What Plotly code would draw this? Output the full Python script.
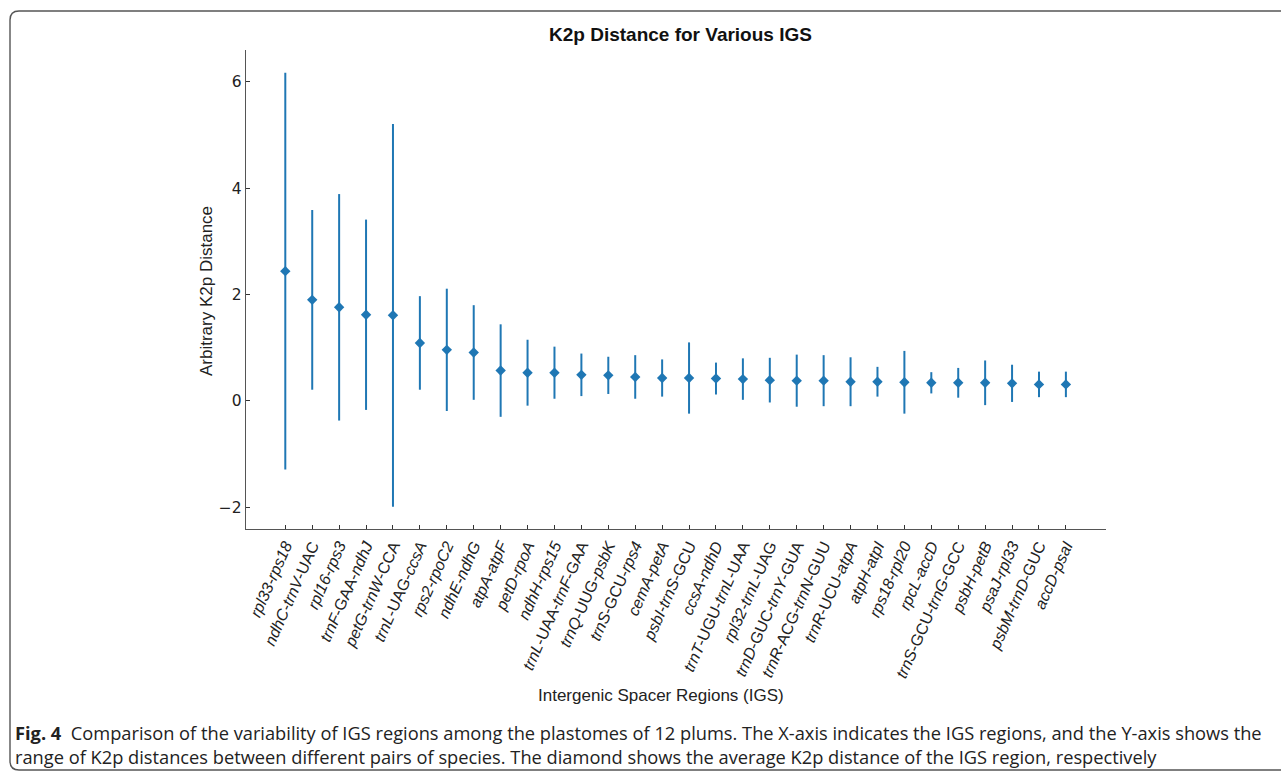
import plotly.graph_objects as go

# ---- data ----
regions = [
    "rpl33-rps18", "ndhC-trnV-UAC", "rpl16-rps3", "trnF-GAA-ndhJ", "petG-trnW-CCA",
    "trnL-UAG-ccsA", "rps2-rpoC2", "ndhE-ndhG", "atpA-atpF", "petD-rpoA",
    "ndhH-rps15", "trnL-UAA-trnF-GAA", "trnQ-UUG-psbK", "trnS-GCU-rps4", "cemA-petA",
    "psbI-trnS-GCU", "ccsA-ndhD", "trnT-UGU-trnL-UAA", "rpl32-trnL-UAG", "trnD-GUC-trnY-GUA",
    "trnR-ACG-trnN-GUU", "trnR-UCU-atpA", "atpH-atpI", "rps18-rpl20", "rpcL-accD",
    "trnS-GCU-trnG-GCC", "psbH-petB", "psaJ-rpl33", "psbM-trnD-GUC", "accD-psaI",
]
tick_labels = [
    "<i>rpl33-rps18</i>", "<i>ndhC-trnV</i>-UAC", "<i>rpl16-rps3</i>", "<i>trnF</i>-GAA-<i>ndhJ</i>",
    "<i>petG-trnW</i>-CCA", "<i>trnL</i>-UAG-<i>ccsA</i>", "<i>rps2-rpoC2</i>", "<i>ndhE-ndhG</i>",
    "<i>atpA-atpF</i>", "<i>petD-rpoA</i>", "<i>ndhH-rps15</i>", "<i>trnL</i>-UAA-<i>trnF</i>-GAA",
    "<i>trnQ</i>-UUG-<i>psbK</i>", "<i>trnS</i>-GCU-<i>rps4</i>", "<i>cemA-petA</i>", "<i>psbI-trnS</i>-GCU",
    "<i>ccsA-ndhD</i>", "<i>trnT</i>-UGU-<i>trnL</i>-UAA", "<i>rpl32-trnL</i>-UAG", "<i>trnD</i>-GUC-<i>trnY</i>-GUA",
    "<i>trnR</i>-ACG-<i>trnN</i>-GUU", "<i>trnR</i>-UCU-<i>atpA</i>", "<i>atpH-atpI</i>", "<i>rps18-rpl20</i>",
    "<i>rpcL-accD</i>", "<i>trnS</i>-GCU-<i>trnG</i>-GCC", "<i>psbH-petB</i>", "<i>psaJ-rpl33</i>",
    "<i>psbM-trnD</i>-GUC", "<i>accD-psaI</i>",
]
mean_k2p = [
    2.44, 1.90, 1.76, 1.62, 1.61, 1.09, 0.96, 0.91, 0.57, 0.53,
    0.53, 0.49, 0.48, 0.45, 0.43, 0.43, 0.42, 0.41, 0.39, 0.38,
    0.38, 0.36, 0.36, 0.35, 0.34, 0.34, 0.34, 0.33, 0.31, 0.31,
]
sd_k2p = [
    3.73, 1.69, 2.13, 1.79, 3.60, 0.88, 1.15, 0.89, 0.87, 0.62,
    0.49, 0.40, 0.35, 0.41, 0.35, 0.67, 0.30, 0.39, 0.42, 0.49,
    0.48, 0.46, 0.28, 0.59, 0.20, 0.28, 0.42, 0.35, 0.24, 0.24,
]
y_ticks = [-2, 0, 2, 4, 6]

BLUE = "#1f77b4"
W, H = 1281, 772
L, R, T, B = 246, 1106, 50, 529


def px(x):
    return (x - L) / (R - L)


def py(y):
    return (B - y) / (B - T)


x_idx = list(range(len(regions)))

fig = go.Figure()
fig.add_trace(go.Scatter(
    x=x_idx, y=mean_k2p, mode="markers",
    marker=dict(symbol="diamond", size=8, color=BLUE, line=dict(width=0)),
    error_y=dict(type="data", array=sd_k2p, visible=True, thickness=2, width=0, color=BLUE),
    hovertext=regions, showlegend=False,
))

axis_col = "#555555"
fig.update_xaxes(
    range=[-1.46, 30.49], tickmode="array", tickvals=x_idx, ticktext=tick_labels,
    tickangle=-66, ticks="inside", ticklen=4, tickcolor="#333", tickwidth=1.2,
    showline=True, linecolor=axis_col, linewidth=1.4, showgrid=False, zeroline=False,
    tickfont=dict(family="Liberation Sans, Arial", size=16, color="#222"),
)
fig.update_yaxes(
    range=[-2.41, 6.6], tickmode="array", tickvals=y_ticks,
    ticks="inside", ticklen=4, tickcolor="#333", tickwidth=1.2,
    showline=True, linecolor=axis_col, linewidth=1.4, showgrid=False, zeroline=False,
    tickfont=dict(family="DejaVu Sans", size=15.5, color="#222"),
)

# rounded frame around figure + caption
r = 9
x0, y0, x1, y1 = 10, 11, 1300, 770
path = (
    f"M {px(x0 + r)},{py(y0)} L {px(x1)},{py(y0)} M {px(x1)},{py(y1)} "
    f"L {px(x0 + r)},{py(y1)} Q {px(x0)},{py(y1)} {px(x0)},{py(y1 - r)} "
    f"L {px(x0)},{py(y0 + r)} Q {px(x0)},{py(y0)} {px(x0 + r)},{py(y0)}"
)
fig.add_shape(type="path", path=path, xref="paper", yref="paper",
              line=dict(color="#555555", width=1.4), layer="below")

fig.add_annotation(
    text="<b>K2p Distance for Various IGS</b>", x=px(680), y=py(34),
    xref="paper", yref="paper", showarrow=False, xanchor="center", yanchor="middle",
    font=dict(family="Liberation Sans, Arial", size=19, color="#111"),
)
fig.add_annotation(
    text="Arbitrary K2p Distance", x=px(206), y=py(291), textangle=-90,
    xref="paper", yref="paper", showarrow=False, xanchor="center", yanchor="middle",
    font=dict(family="Liberation Sans, Arial", size=17, color="#222"),
)
fig.add_annotation(
    text="Intergenic Spacer Regions (IGS)", x=px(661), y=py(695),
    xref="paper", yref="paper", showarrow=False, xanchor="center", yanchor="middle",
    font=dict(family="Liberation Sans, Arial", size=17, color="#222"),
)
fig.add_annotation(
    text=("<b>Fig. 4</b>  Comparison of the variability of IGS regions among the plastomes of 12 plums. "
          "The X-axis indicates the IGS regions, and the Y-axis shows the<br>"
          "range of K2p distances between different pairs of species. The diamond shows the average "
          "K2p distance of the IGS region, respectively"),
    x=px(13), y=py(744), align="left",
    xref="paper", yref="paper", showarrow=False, xanchor="left", yanchor="middle",
    font=dict(family="Open Sans", size=18.25, color="#222"),
)

fig.update_layout(
    width=W, height=H, autosize=False,
    margin=dict(l=L, r=W - R, t=T, b=H - B),
    paper_bgcolor="white", plot_bgcolor="white",
)

fig.write_html("out.html", config={"displayModeBar": False})

# remove the default 8px browser body margin so the figure sits at the page origin
with open("out.html", "r", encoding="utf-8") as f:
    html = f.read()
html = html.replace("<head>", "<head><style>html,body{margin:0;padding:0;overflow:hidden;}</style>", 1)
with open("out.html", "w", encoding="utf-8") as f:
    f.write(html)
